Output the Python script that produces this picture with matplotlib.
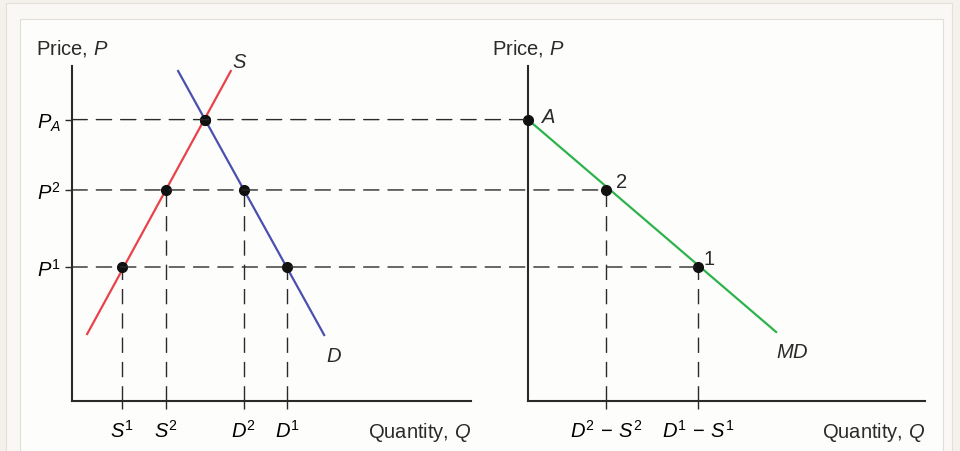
import matplotlib
matplotlib.use("Agg")
import matplotlib.pyplot as plt
from matplotlib.patches import ConnectionPatch, Rectangle

plt.rcParams['font.family'] = ['Liberation Sans', 'DejaVu Sans']
plt.rcParams['mathtext.fontset'] = 'custom'
plt.rcParams['mathtext.rm'] = 'Liberation Sans'
plt.rcParams['mathtext.it'] = 'Liberation Sans:italic'

# data (axes run 0..10)
prices = [8.4, 6.3, 4.0]                      # P_A, P2, P1
price_labels = ["$P_A$", "$P^2$", "$P^1$"]
supply_q = [0.38, 3.98]
supply_p = [2.0, 9.85]
demand_q = [2.66, 6.32]
demand_p = [9.85, 1.97]
supply_pts_q = [3.33, 2.36, 1.25]              # at P_A, P2, P1
demand_pts_q = [3.33, 4.31, 5.39]
left_ticks = [1.25, 2.36, 4.31, 5.39]
left_tick_labels = ["$S^1$", "$S^2$", "$D^2$", "$D^1$"]

md_q = [0, 6.25]
md_p = [8.4, 2.06]
md_pts_q = [0, 1.96, 4.28]                     # A, 2, 1
md_pt_labels = ["$A$", "2", "1"]
right_ticks = [1.96, 4.28]
right_tick_labels = ["$D^2\\,-\\,S^2$", "$D^1\\,-\\,S^1$"]

red = "#e8434a"
blue = "#4b4fae"
green = "#2db34c"
dash = (0, (11, 6.5))
dark = "#2a2a2a"
fs = 14.5

fig = plt.figure(figsize=(9.6, 4.52), dpi=100, facecolor="#f4f1ec")
W, H = 960, 452
fig.patches.append(Rectangle((6 / W, 0), 946 / W, 448 / H, transform=fig.transFigure,
                             facecolor="#faf8f5", edgecolor="#e4e0d8", lw=0.8, zorder=-10))
fig.patches.append(Rectangle((20 / W, 0), 923 / W, 432 / H, transform=fig.transFigure,
                             facecolor="#fdfdfc", edgecolor="#e2ded6", lw=0.8, zorder=-9))

axL = fig.add_axes([72 / W, 50 / H, 399 / W, 335 / H])
axR = fig.add_axes([528 / W, 50 / H, 397 / W, 335 / H])

for ax in (axL, axR):
    ax.set_xlim(0, 10)
    ax.set_ylim(0, 10)
    ax.patch.set_alpha(0)
    for s in ("top", "right"):
        ax.spines[s].set_visible(False)
    ax.spines["left"].set_linewidth(1.5)
    ax.spines["bottom"].set_linewidth(1.5)
    ax.spines["left"].set_color(dark)
    ax.spines["bottom"].set_color(dark)
    ax.tick_params(axis="x", length=6, width=1, pad=7, color=dark, labelsize=fs)
    ax.tick_params(axis="y", length=5, width=1, pad=3, color=dark, labelsize=fs)
    ax.annotate("Price, $P$", xy=(0, 1), xycoords="axes fraction", xytext=(-26, 13),
                textcoords="offset points", ha="left", va="center", fontsize=fs, color=dark)
    ax.annotate("Quantity, $Q$", xy=(1, 0), xycoords="axes fraction", xytext=(0, -22),
                textcoords="offset points", ha="right", va="center", fontsize=fs, color=dark)

# left panel
axL.set_yticks(prices)
axL.set_yticklabels(price_labels)
axL.set_xticks(left_ticks)
axL.set_xticklabels(left_tick_labels)
axR.set_yticks([])
axR.set_xticks(right_ticks)
axR.set_xticklabels(right_tick_labels)

axL.plot(supply_q, supply_p, color=red, lw=1.6, zorder=3)
axL.plot(demand_q, demand_p, color=blue, lw=1.6, zorder=3)
for q, p in zip(supply_pts_q[1:], prices[1:]):
    axL.plot([q, q], [0, p], color=dark, lw=1, ls=dash, zorder=2)
for q, p in zip(demand_pts_q[1:], prices[1:]):
    axL.plot([q, q], [0, p], color=dark, lw=1, ls=dash, zorder=2)
axL.plot(supply_pts_q, prices, "o", color="#111111", ms=7, zorder=4)
axL.plot(demand_pts_q, prices, "o", color="#111111", ms=7, zorder=4)
axL.annotate("$S$", xy=(supply_q[1], supply_p[1]), xytext=(6, 7), textcoords="offset points",
             ha="center", va="center", fontsize=fs, color=dark)
axL.annotate("$D$", xy=(demand_q[1], demand_p[1]), xytext=(7, -15), textcoords="offset points",
             ha="center", va="center", fontsize=fs, color=dark)

# right panel
axR.plot(md_q, md_p, color=green, lw=1.6, zorder=3)
for q, p in zip(md_pts_q[1:], prices[1:]):
    axR.plot([q, q], [0, p], color=dark, lw=1, ls=dash, zorder=2)
axR.plot(md_pts_q, prices, "o", color="#111111", ms=7, zorder=4, clip_on=False)
offsets = [(14, 2), (11, 6), (8, 6)]
for q, p, lab, off in zip(md_pts_q, prices, md_pt_labels, offsets):
    axR.annotate(lab, xy=(q, p), xytext=off, textcoords="offset points",
                 ha="center", va="center", fontsize=fs, color=dark)
axR.annotate("$MD$", xy=(md_q[1], md_p[1]), xytext=(12, -14), textcoords="offset points",
             ha="center", va="center", fontsize=fs, color=dark)

# dashed price lines running across both panels
for q, p in zip(md_pts_q, prices):
    con = ConnectionPatch(xyA=(0, p), coordsA=axL.transData, xyB=(q, p), coordsB=axR.transData,
                          color=dark, lw=1, linestyle=dash, zorder=1)
    fig.add_artist(con)

fig.savefig("out.png", dpi=100, facecolor=fig.get_facecolor())
